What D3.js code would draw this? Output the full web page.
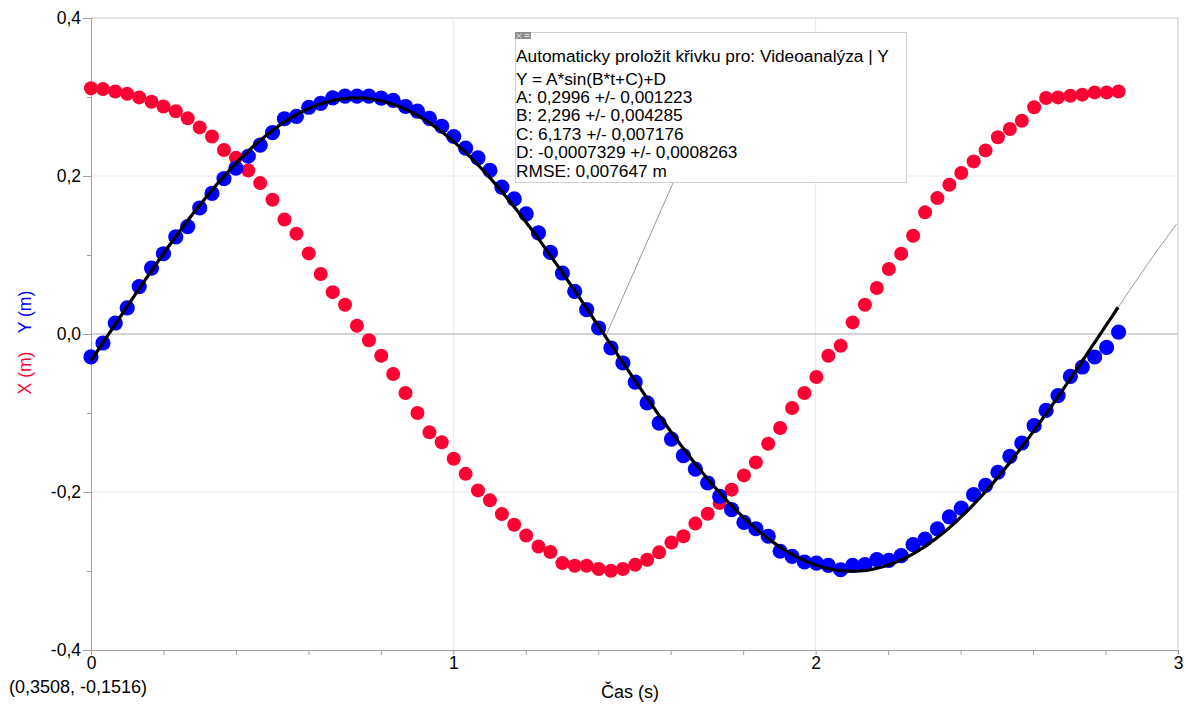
<!DOCTYPE html>
<html>
<head>
<meta charset="utf-8">
<script src="https://cdn.jsdelivr.net/npm/d3@7"></script>
<style>
  body { margin: 0; background: #fff; }
  svg { display: block; font-family: "Liberation Sans", Arial, sans-serif; }
</style>
</head>
<body>
<svg id="chart" width="1186" height="704"></svg>
<script>
// time stamps of the video frames (s)
var times = [
  0, 0.033, 0.067, 0.100, 0.133, 0.167, 0.200, 0.234, 0.267, 0.300,
  0.334, 0.367, 0.400, 0.434, 0.467, 0.501, 0.534, 0.567, 0.601, 0.634,
  0.667, 0.701, 0.734, 0.767, 0.801, 0.834, 0.868, 0.901, 0.934, 0.968,
  1.001, 1.034, 1.068, 1.101, 1.134, 1.168, 1.201, 1.235, 1.268, 1.301,
  1.335, 1.368, 1.401, 1.435, 1.468, 1.502, 1.535, 1.568, 1.602, 1.635,
  1.668, 1.702, 1.735, 1.768, 1.802, 1.835, 1.869, 1.902, 1.935, 1.969,
  2.002, 2.035, 2.069, 2.102, 2.136, 2.169, 2.202, 2.236, 2.269, 2.302,
  2.336, 2.369, 2.402, 2.436, 2.469, 2.503, 2.536, 2.569, 2.603, 2.636,
  2.669, 2.703, 2.736, 2.770, 2.803, 2.836
];

// X (m) - red
var xValues = [
  0.311, 0.310, 0.307, 0.304, 0.2995, 0.294, 0.288, 0.282, 0.273, 0.2615,
  0.250, 0.233, 0.223, 0.207, 0.191, 0.170, 0.145, 0.127, 0.102, 0.076,
  0.053, 0.037, 0.0105, -0.008, -0.0275, -0.0506, -0.0747, -0.100, -0.1245, -0.137,
  -0.158, -0.177, -0.198, -0.2106, -0.228, -0.2414, -0.255, -0.269, -0.276, -0.290,
  -0.2933, -0.2933, -0.2975, -0.2996, -0.2975, -0.292, -0.2857, -0.2764, -0.264, -0.256,
  -0.240, -0.2275, -0.214, -0.197, -0.179, -0.1625, -0.139, -0.119, -0.0937, -0.0747,
  -0.0544, -0.0275, -0.0148, 0.0147, 0.0371, 0.0582, 0.0823, 0.1016, 0.1244, 0.154,
  0.172, 0.189, 0.2038, 0.2185, 0.2324, 0.249, 0.2595, 0.270, 0.287, 0.2987,
  0.2995, 0.3016, 0.303, 0.3058, 0.3058, 0.307
];

// Y (m) - blue
var yValues = [
  -0.029, -0.0114, 0.0139, 0.033, 0.060, 0.0835, 0.1016, 0.123, 0.136, 0.1595,
  0.178, 0.1966, 0.210, 0.225, 0.239, 0.255, 0.2725, 0.2755, 0.287, 0.292,
  0.299, 0.301, 0.301, 0.301, 0.2987, 0.2957, 0.288, 0.282, 0.273, 0.263,
  0.250, 0.2354, 0.223, 0.207, 0.186, 0.171, 0.152, 0.128, 0.1033, 0.0772,
  0.054, 0.0308, 0.0076, -0.0177, -0.0367, -0.0608, -0.0873, -0.1127, -0.133, -0.154,
  -0.171, -0.1886, -0.2056, -0.2224, -0.2385, -0.2465, -0.256, -0.275, -0.2815, -0.2886,
  -0.290, -0.293, -0.2984, -0.293, -0.292, -0.2857, -0.2866, -0.2806, -0.2667, -0.2595,
  -0.2468, -0.2316, -0.2203, -0.2034, -0.1916, -0.175, -0.155, -0.138, -0.116, -0.0967,
  -0.078, -0.0537, -0.0418, -0.0291, -0.017, 0.0025
];

// sine fit A, B, C, D from the annotation
var fitParams = [0.2996, 2.296, 6.173, -0.0007329];

var xTicks = [0, 1, 2, 3];
var xMinorTicks = [0.2, 0.4, 0.6, 0.8, 1.2, 1.4, 1.6, 1.8, 2.2, 2.4, 2.6, 2.8];
var yTicks = [-0.4, -0.2, 0, 0.2, 0.4];
var yMinorTicks = [-0.3, -0.1, 0.1, 0.3];

var boxLines = [
  "Automaticky proložit křivku pro: Videoanalýza | Y",
  "Y = A*sin(B*t+C)+D",
  "A: 0,2996 +/- 0,001223",
  "B: 2,296 +/- 0,004285",
  "C: 6,173 +/- 0,007176",
  "D: -0,0007329 +/- 0,0008263",
  "RMSE: 0,007647 m"
];

var svg = d3.select("#chart");
var plotL = 91, plotR = 1178, plotT = 18, plotB = 650;

var x = d3.scaleLinear().domain([0, 3]).range([plotL, plotR]);
var y = d3.scaleLinear().domain([-0.4, 0.4]).range([plotB, plotT]);

var loc = d3.formatLocale({decimal: ",", thousands: " ", grouping: [3], currency: ["", ""], minus: "-"});
var fmtY = loc.format(".1f");

// grid
svg.append("g").selectAll("line")
  .data([-0.2, 0.2])
  .enter().append("line")
    .attr("x1", plotL).attr("x2", plotR)
    .attr("y1", function(d){ return y(d); }).attr("y2", function(d){ return y(d); })
    .attr("stroke", "#e8e8e8");
svg.append("g").selectAll("line")
  .data([1, 2])
  .enter().append("line")
    .attr("x1", function(d){ return x(d); }).attr("x2", function(d){ return x(d); })
    .attr("y1", plotT).attr("y2", plotB)
    .attr("stroke", "#e8e8e8");
// frame top / right
svg.append("path")
  .attr("d", "M" + plotL + "," + y(0.4) + "H" + plotR + "V" + plotB)
  .attr("fill", "none").attr("stroke", "#cccccc");
// zero line
svg.append("line")
  .attr("x1", plotL).attr("x2", plotR)
  .attr("y1", y(0)).attr("y2", y(0))
  .attr("stroke", "#aaaaaa");

// axes
function styleAxis(g) {
  g.select(".domain").attr("stroke", "#a0a0a0");
  g.selectAll(".tick line").attr("stroke", "#a0a0a0");
  g.selectAll(".tick text").attr("fill", "#000").style("font-size", "17.5px")
    .style("font-family", "Liberation Sans, Arial, sans-serif");
}
svg.append("g")
  .attr("transform", "translate(" + plotL + ",0)")
  .call(d3.axisLeft(y).tickValues(yMinorTicks).tickSize(4).tickFormat(""))
  .call(styleAxis);
svg.append("g")
  .attr("transform", "translate(" + plotL + ",0)")
  .call(d3.axisLeft(y).tickValues(yTicks).tickSize(8).tickPadding(2).tickFormat(fmtY))
  .call(styleAxis);
svg.append("g")
  .attr("transform", "translate(0," + plotB + ")")
  .call(d3.axisBottom(x).tickValues(xMinorTicks).tickSize(5).tickFormat(""))
  .call(styleAxis);
svg.append("g")
  .attr("transform", "translate(0," + plotB + ")")
  .call(d3.axisBottom(x).tickValues(xTicks).tickSize(5).tickPadding(2).tickFormat(d3.format("d")))
  .call(styleAxis);

// axis titles
svg.append("text")
  .attr("transform", "translate(31,312) rotate(-90)")
  .attr("text-anchor", "middle").attr("fill", "#0000ff")
  .style("font-size", "17.5px").text("Y (m)");
svg.append("text")
  .attr("transform", "translate(31,373) rotate(-90)")
  .attr("text-anchor", "middle").attr("fill", "#ff0033")
  .style("font-size", "17.5px").text("X (m)");
svg.append("text")
  .attr("x", 630).attr("y", 698)
  .attr("text-anchor", "middle").attr("fill", "#000")
  .style("font-size", "18px").text("Čas (s)");
svg.append("text")
  .attr("x", 9).attr("y", 693)
  .attr("fill", "#000")
  .style("font-size", "18px").text("(0,3508, -0,1516)");

// fit model
function fit(t) {
  return fitParams[0] * Math.sin(fitParams[1] * t + fitParams[2]) + fitParams[3];
}
var tEnd = times[times.length - 1];
var line = d3.line()
  .x(function(d){ return x(d); })
  .y(function(d){ return y(fit(d)); });

// extrapolated part, thin
svg.append("path")
  .datum(d3.range(tEnd, 3.0001, 0.01))
  .attr("d", line)
  .attr("fill", "none").attr("stroke", "#9a9a9a").attr("stroke-width", 1);

// leader line from annotation to the curve
var leaderT = 1.42;
svg.append("line")
  .attr("x1", 673).attr("y1", 183)
  .attr("x2", x(leaderT)).attr("y2", y(fit(leaderT)))
  .attr("stroke", "#9a9a9a").attr("stroke-width", 1);

// points
var pts = times.map(function(t, i){ return {t: t, xv: xValues[i], yv: yValues[i]}; });
svg.append("g").selectAll("circle")
  .data(pts)
  .enter().append("circle")
    .attr("cx", function(d){ return x(d.t); })
    .attr("cy", function(d){ return y(d.xv); })
    .attr("r", 7)
    .attr("fill", "#ff0033");
svg.append("g").selectAll("circle")
  .data(pts)
  .enter().append("circle")
    .attr("cx", function(d){ return x(d.t); })
    .attr("cy", function(d){ return y(d.yv); })
    .attr("r", 7.6)
    .attr("fill", "#0000ff");

// fitted curve
svg.append("path")
  .datum(d3.range(0, tEnd + 0.0001, 0.005))
  .attr("d", line)
  .attr("fill", "none").attr("stroke", "#000").attr("stroke-width", 3.2);

// annotation box
var box = svg.append("g");
box.append("rect")
  .attr("x", 515.5).attr("y", 32.5).attr("width", 391).attr("height", 150)
  .attr("fill", "#fff").attr("stroke", "#d0d0d0");
// close / collapse icon
box.append("rect").attr("x", 515).attr("y", 32).attr("width", 8).attr("height", 7).attr("fill", "#8c8c8c");
box.append("rect").attr("x", 523).attr("y", 32).attr("width", 8).attr("height", 7).attr("fill", "#8c8c8c");
box.append("path").attr("d", "M516.5,33.5L521.5,38M521.5,33.5L516.5,38M524.5,34.5H529.5M524.5,36.5H529.5")
  .attr("stroke", "#e6e6e6").attr("stroke-width", 1);

var baselines = [62, 85, 103, 121, 140, 158, 177];
box.selectAll("text.l")
  .data(boxLines)
  .enter().append("text")
    .attr("class", "l")
    .attr("x", 516)
    .attr("y", function(d, i){ return baselines[i]; })
    .attr("fill", "#000")
    .style("font-size", "17.3px")
    .text(function(d){ return d; });
</script>
</body>
</html>
